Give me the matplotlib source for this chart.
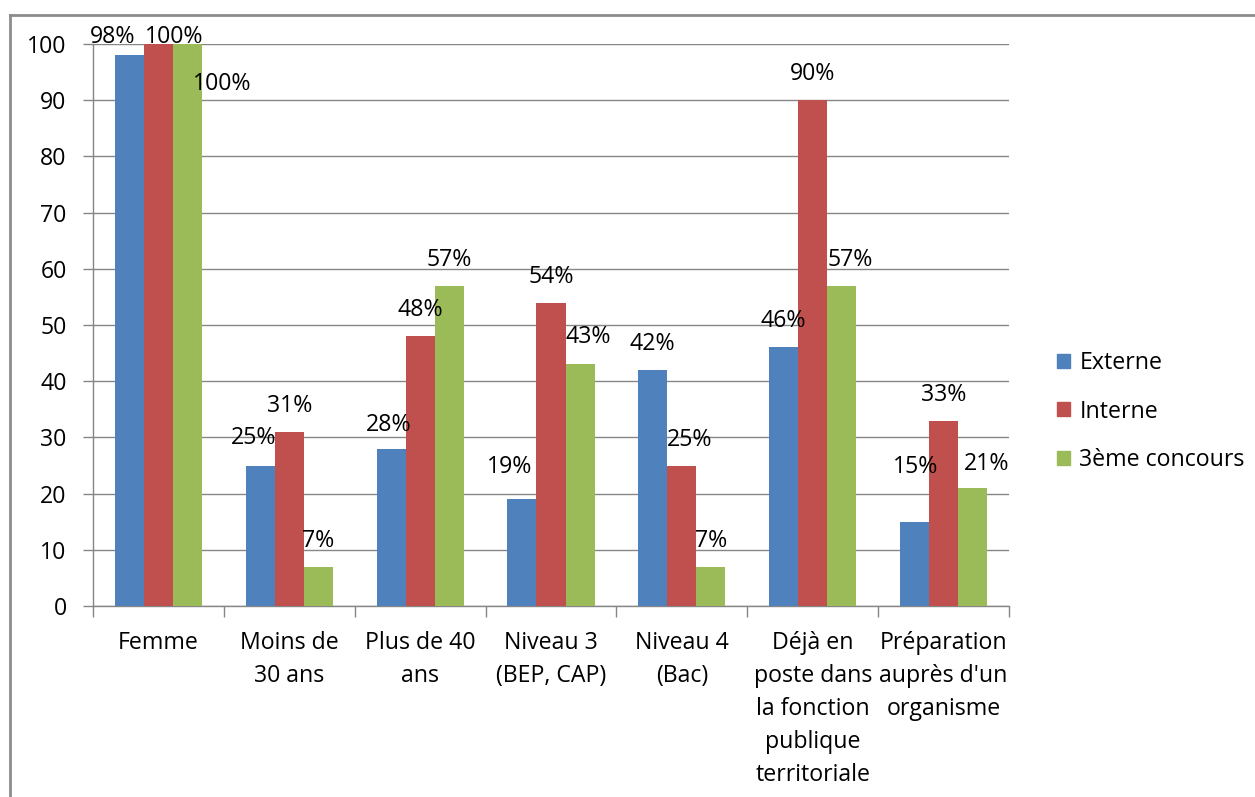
import matplotlib
matplotlib.use("Agg")
import matplotlib.pyplot as plt
from matplotlib.lines import Line2D
import numpy as np

categories = ["Femme", "Moins de\n30 ans", "Plus de 40\nans", "Niveau 3\n(BEP, CAP)",
              "Niveau 4\n(Bac)", "Déjà en\nposte dans\nla fonction\npublique\nterritoriale",
              "Préparation\nauprès d'un\norganisme"]
externe = [98, 25, 28, 19, 42, 46, 15]
interne = [100, 31, 48, 54, 25, 90, 33]
troisieme = [100, 7, 57, 43, 7, 57, 21]
series_names = ["Externe", "Interne", "3ème concours"]
colors = ["#4F81BD", "#C0504D", "#9BBB59"]
yticks = [0, 10, 20, 30, 40, 50, 60, 70, 80, 90, 100]

plt.rcParams['font.family'] = ['Open Sans', 'DejaVu Sans']
FS = 16.7

W, H = 1255, 797
fig = plt.figure(figsize=(W / 100, H / 100), dpi=100)
ax = fig.add_axes([93 / W, 1 - 606 / H, (1009 - 93) / W, (606 - 44) / H])

n = len(categories)
x = np.arange(n)
bw = 0.222
series = [externe, interne, troisieme]

# label nudges in pixels: (dx, dy of label centre above bar top)
default_dy = 26
nudges = {
    (0, 0): (-17, 18), (1, 0): (16, 7), (2, 0): (35, -40),
    (0, 1): (-7, 28), (0, 3): (-12, 32), (0, 6): (1, 55),
    (2, 6): (14, 24), (2, 5): (8, 26), (1, 4): (8, 26), (0, 2): (-2, 24),
    (2, 3): (8, 27),
}

for s, (vals, col, name) in enumerate(zip(series, colors, series_names)):
    xs = x + (s - 1) * bw
    ax.bar(xs, vals, width=bw, color=col, label=name, zorder=3, linewidth=0)
    for i, (xi, v) in enumerate(zip(xs, vals)):
        dx, dy = nudges.get((s, i), (0, default_dy))
        ax.annotate(f"{v}%", xy=(xi, v), xytext=(dx * 0.72, dy * 0.72),
                    textcoords="offset points", ha="center", va="center",
                    fontsize=FS, color="#000000", zorder=5, annotation_clip=False)

ax.set_xlim(-0.5, n - 0.5)
ax.set_ylim(0, 100)
ax.set_yticks(yticks)
ax.set_yticklabels([str(t) for t in yticks], fontsize=FS)
ax.yaxis.grid(True, color="#868686", linewidth=1, zorder=0)
ax.set_axisbelow(True)

ax.set_xticks(np.arange(-0.5, n, 1.0))
ax.set_xticklabels([])
ax.set_xticks(x, minor=True)
ax.set_xticklabels(categories, minor=True, fontsize=FS, linespacing=1.5, va="top")
ax.tick_params(axis="x", which="minor", length=0, pad=18)
ax.tick_params(axis="x", which="major", length=8, color="#868686", width=1)
ax.tick_params(axis="y", length=7, color="#868686", width=1, pad=12)

for sp in ["top", "right"]:
    ax.spines[sp].set_visible(False)
for sp in ["left", "bottom"]:
    ax.spines[sp].set_color("#868686")
    ax.spines[sp].set_linewidth(1)

handles = [plt.Rectangle((0, 0), 1, 1, color=c) for c in colors]
fig.legend(handles, series_names, loc="upper left",
           bbox_to_anchor=(1048 / W, 1 - 342 / H), frameon=False,
           fontsize=FS, handlelength=0.55, handleheight=0.55, handletextpad=0.4,
           labelspacing=1.05, borderaxespad=0)

# outer chart border (top and left visible)
fig.add_artist(Line2D([10 / W, 1], [1 - 15 / H, 1 - 15 / H], color="#8c8c8c", linewidth=2))
fig.add_artist(Line2D([10 / W, 10 / W], [0, 1 - 15 / H], color="#8c8c8c", linewidth=2))

fig.savefig("out.png", dpi=100)
